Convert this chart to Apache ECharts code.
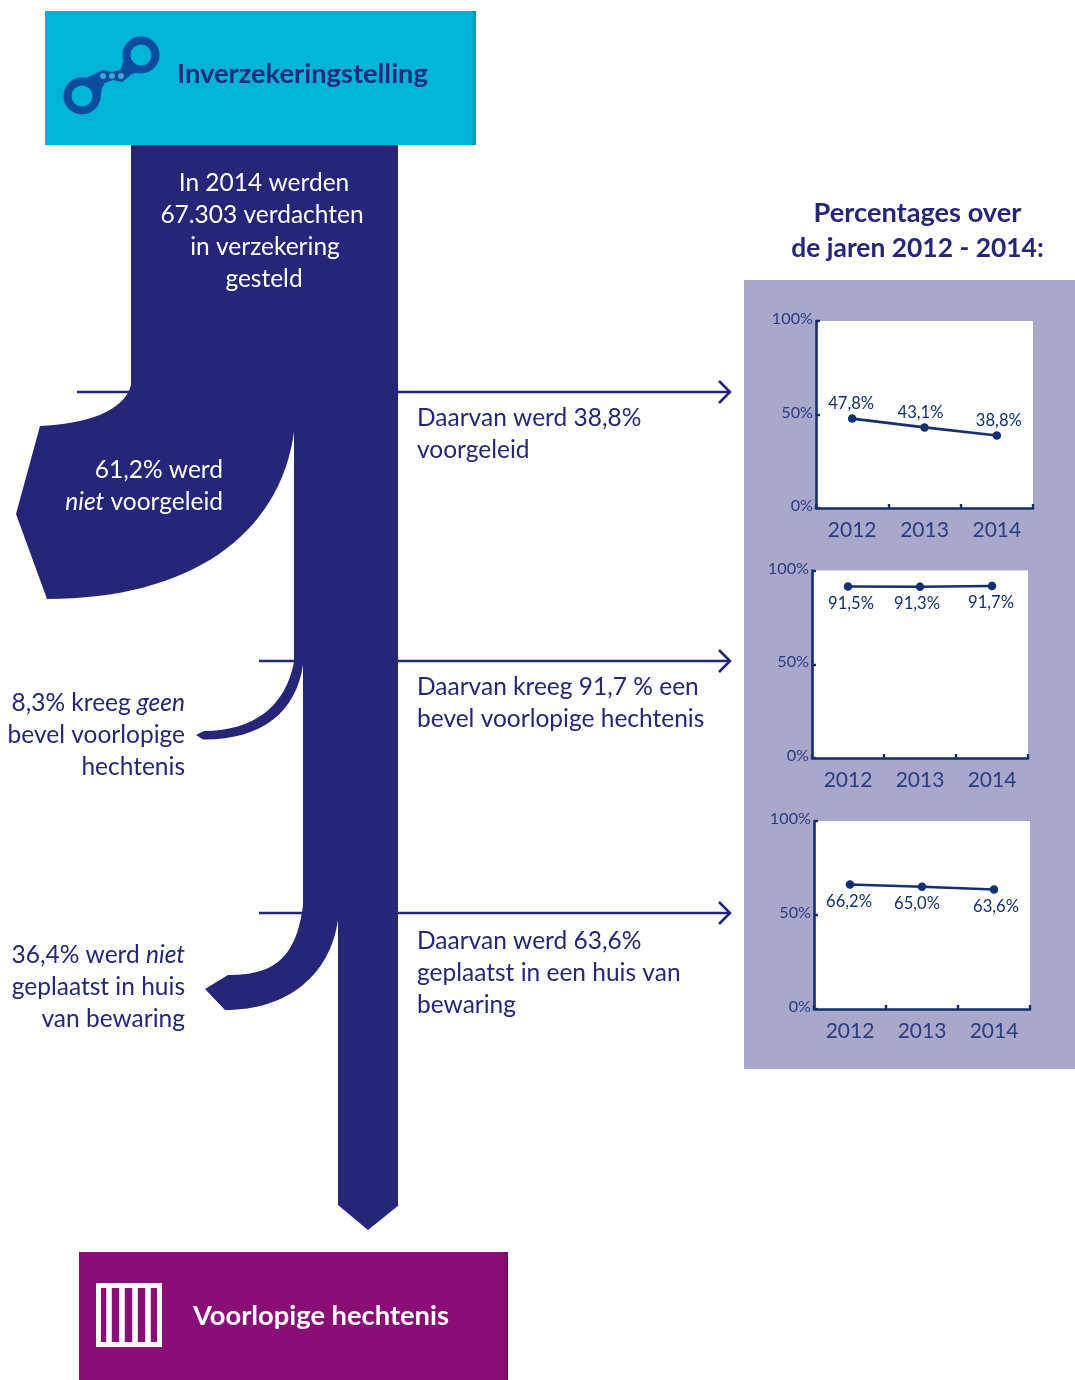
<!DOCTYPE html>
<html><head><meta charset="utf-8">
<style>html,body{margin:0;padding:0;background:#fff}#c{width:1075px;height:1380px}</style>
<script src="https://cdn.jsdelivr.net/npm/echarts@6/dist/echarts.min.js"></script>
</head><body><div id="c"></div>
<script>
// ---- data ----
const years = ['2012', '2013', '2014'];
const voorgeleid = [47.8, 43.1, 38.8];
const bevel = [91.5, 91.3, 91.7];
const huisVanBewaring = [66.2, 65.0, 63.6];
const yTicks = [0, 50, 100];
const headerTop = 'Inverzekeringstelling';
const headerBottom = 'Voorlopige hechtenis';
const panelTitle = ['Percentages over', 'de jaren 2012 - 2014:'];
const introLines = ['In 2014 werden', '67.303 verdachten', 'in verzekering', 'gesteld'];
const nietVoorgeleid = ['61,2% werd', '{i|niet} voorgeleid'];
const geenBevel = ['8,3% kreeg {i|geen}', 'bevel voorlopige', 'hechtenis'];
const nietGeplaatst = ['36,4% werd {i|niet}', 'geplaatst in huis', 'van bewaring'];
const rightA = ['Daarvan werd 38,8%', 'voorgeleid'];
const rightB = ['Daarvan kreeg 91,7 % een', 'bevel voorlopige hechtenis'];
const rightC = ['Daarvan werd 63,6%', 'geplaatst in een huis van', 'bewaring'];

// ---- style ----
const FONT = 'Lato';
const NAVY = '#262678', AXIS = '#12306f', LABEL = '#2a3c80';
const TXT = 24.5;

function edgeFill(base, dark) {
  return {type:'linear',x:0,y:0,x2:1,y2:0,colorStops:[{offset:0,color:base},{offset:0.988,color:base},{offset:1,color:dark}]};
}
function txt(x, y, s, o) {
  o = o || {};
  return {type:'text', x, y, z:5, silent:true, style:{
    text:s, fontFamily:FONT, fontSize:o.size||TXT, fontWeight:o.weight||'normal',
    fill:o.fill||NAVY, align:o.align||'left', verticalAlign:'middle',
    rich:{i:{fontStyle:'italic', fontFamily:FONT, fontSize:o.size||TXT, fill:o.fill||NAVY}}
  }};
}
function block(lines, x, y0, o, step) {
  return lines.map((s,i)=>txt(Array.isArray(x)?x[i]:x, y0+i*(step||32), s, o));
}
function arrowLine(x0, y) {
  return [
    {type:'line', z:1, silent:true, shape:{x1:x0,y1:y,x2:730,y2:y}, style:{stroke:NAVY,lineWidth:2.6}},
    {type:'polyline', z:1, silent:true, shape:{points:[[719,y-11],[730,y],[719,y+11]]}, style:{stroke:NAVY,lineWidth:2.6,fill:null}}
  ];
}

const flowPath = 'M131,145 L398,145 L398,1205 L399,1205 L368,1230 L338,1205 L338,920 ' +
  'C330,975 288,1010 225,1010 L205,989 L228,975 C270,975 296,962 303,905 ' +
  'L303,665 C296,712 262,740 203,739.5 L196,735 L204,731 C255,731 286,705 294,662 ' +
  'L294,432 C280,535 190,599 47,599 L16,514 L40,426 C85,424 124,412 131,385 Z';
echarts.graphic.registerShape('flowShape', echarts.graphic.extendPath(flowPath, {}));

const CUFF = '#0a4da0', CYAN = '#00b4d8';
const graphics = [
  {type:'rect', z:-5, silent:true, shape:{x:744,y:280,width:331,height:789}, style:{fill:'#a9a8cb'}},
  ...arrowLine(77,392), ...arrowLine(259,661), ...arrowLine(259,913),
  {type:'flowShape', z:2, silent:true, style:{fill:NAVY}},
  {type:'rect', z:3, silent:true, shape:{x:45,y:11,width:431,height:134}, style:{fill:edgeFill(CYAN,'#0092ac')}},
  {type:'rect', z:3, silent:true, shape:{x:79,y:1252,width:429,height:128}, style:{fill:edgeFill('#8a0e75','#6f0c60')}},
  // handcuffs icon
  {type:'polygon', z:4, silent:true, shape:{points:[[84,79],[97,73],[103,70],[112,72],[120,70],[124,60],[130,48],[145,70],[132,74],[122,82],[113,80],[105,83],[102,88],[100,100]]}, style:{fill:CUFF}},
  {type:'circle', z:4, silent:true, shape:{cx:82,cy:96,r:14.5}, style:{fill:CYAN,stroke:CUFF,lineWidth:8}},
  {type:'circle', z:4, silent:true, shape:{cx:141,cy:55,r:14.5}, style:{fill:CYAN,stroke:CUFF,lineWidth:8}},
  ...[103,112,121].map(cx=>({type:'circle', z:4, silent:true, shape:{cx,cy:76,r:3}, style:{fill:'#3fa6d6'}})),
  // bars icon
  {type:'rect', z:4, silent:true, shape:{x:98.5,y:1285.5,width:61,height:59}, style:{fill:null,stroke:'#fff',lineWidth:5}},
  ...[109,122,135,148].map(x=>({type:'rect', z:4, silent:true, shape:{x:x-2.8,y:1285,width:5.6,height:60}, style:{fill:'#fff'}})),
  txt(177,74.5,headerTop,{size:27.3,weight:'bold',fill:'#1c2c7c'}),
  txt(193,1316.5,headerBottom,{size:27.3,weight:'bold',fill:'#fff'}),
  txt(917.5,213.5,panelTitle[0],{size:27.2,weight:'bold',align:'center'}),
  txt(917.5,248.5,panelTitle[1],{size:26.4,weight:'bold',align:'center'}),
  ...block(introLines,[264,262,265,264],182.7,{fill:'#fff',align:'center'}),
  ...block(nietVoorgeleid,223,469.7,{fill:'#fff',align:'right'}),
  ...block(geenBevel,185,702.7,{align:'right'}),
  ...block(nietGeplaatst,185,954.7,{align:'right'}),
  ...block(rightA,417,417.7),
  ...block(rightB,417,686.7),
  ...block(rightC,417,940.7)
];

// chart frames: left, top, right edge, bottom edge in px
const frames = [[816,321,1033,508],[812,570.5,1028,758],[814,821,1030,1009]];
const sets = [voorgeleid,bevel,huisVanBewaring];
const labelPos = ['top','bottom','bottom'];
const labelDist = [2.5,4,4];
const labelShift = [
  [[-1,0],[-4,0],[2,0]],
  [[3,0],[-3,0],[-1,0]],
  [[-1,0],[-5,0],[2,0]]
];
const grids = frames.map(f=>({left:f[0],top:f[1],width:f[2]-f[0],height:f[3]-f[1],show:true,backgroundColor:'#fff',borderWidth:0,containLabel:false}));
const xAxes = frames.map((f,i)=>({type:'category',gridIndex:i,data:years,
  axisLine:{lineStyle:{color:AXIS,width:2.6}},
  axisTick:{show:true,inside:true,length:4,lineStyle:{color:AXIS,width:2.4}},
  axisLabel:{interval:0,fontFamily:FONT,fontSize:21,color:LABEL,margin:11.5},
  splitLine:{show:false}}));
const yAxes = frames.map((f,i)=>({type:'value',gridIndex:i,min:yTicks[0],max:yTicks[2],interval:yTicks[1],
  axisLine:{show:true,lineStyle:{color:AXIS,width:2.6}},
  axisTick:{show:true,inside:true,length:4,lineStyle:{color:AXIS,width:2.4}},
  axisLabel:{margin:3,formatter:v=>'{a|'+v+'%}',
    rich:{a:{fontFamily:FONT,fontSize:16.2,color:LABEL,padding:[0,0,4,0]}}},
  splitLine:{show:false}}));
const series = sets.map((vals,i)=>({type:'line',xAxisIndex:i,yAxisIndex:i,z:5,
  symbol:'circle',symbolSize:8.5,showAllSymbol:true,animation:false,
  lineStyle:{color:AXIS,width:2.6},itemStyle:{color:AXIS},
  label:{show:true,position:labelPos[i],distance:labelDist[i],fontFamily:FONT,fontSize:16.6,color:AXIS,
    formatter:p=>p.value.toFixed(1).replace('.',',')+'%'},
  data:vals.map((v,j)=>({value:v,label:{offset:labelShift[i][j]}}))}));

const chart = echarts.init(document.getElementById('c'),null,{renderer:'canvas',width:1075,height:1380});
chart.setOption({animation:false,backgroundColor:'#fff',textStyle:{fontFamily:FONT},
  tooltip:{show:false},grid:grids,xAxis:xAxes,yAxis:yAxes,series,graphic:{elements:graphics}});
</script></body></html>
